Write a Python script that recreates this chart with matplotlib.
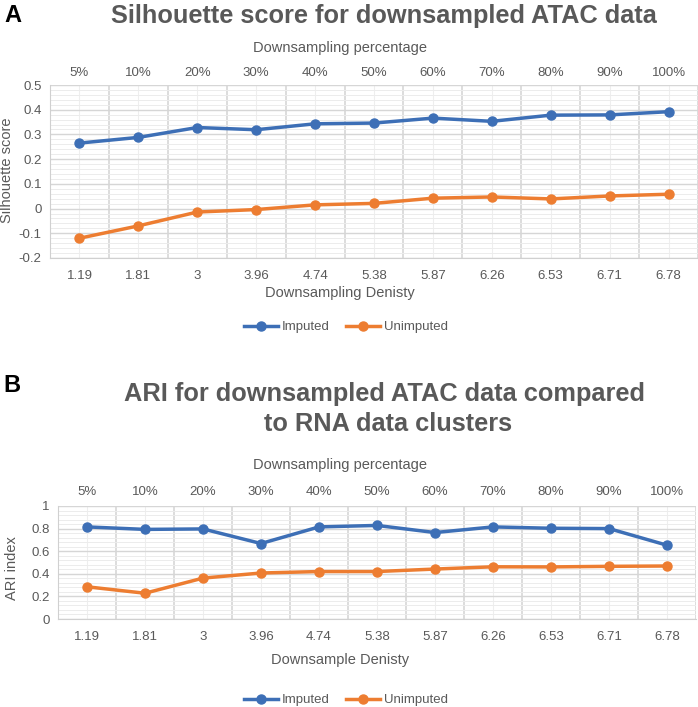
import matplotlib
matplotlib.use('Agg')
import matplotlib.pyplot as plt
from matplotlib.lines import Line2D
from matplotlib.ticker import MultipleLocator, AutoMinorLocator

plt.rcParams['font.family'] = ['Liberation Sans', 'DejaVu Sans']

# data
density = ['1.19', '1.81', '3', '3.96', '4.74', '5.38', '5.87', '6.26', '6.53', '6.71', '6.78']
percent = ['5%', '10%', '20%', '30%', '40%', '50%', '60%', '70%', '80%', '90%', '100%']

sil_imputed = [0.265, 0.288, 0.328, 0.319, 0.343, 0.346, 0.366, 0.353, 0.378, 0.379, 0.392]
sil_unimputed = [-0.120, -0.070, -0.014, -0.004, 0.015, 0.021, 0.042, 0.047, 0.039, 0.051, 0.058]

ari_imputed = [0.815, 0.793, 0.797, 0.668, 0.815, 0.828, 0.765, 0.815, 0.803, 0.800, 0.653]
ari_unimputed = [0.285, 0.228, 0.362, 0.407, 0.420, 0.420, 0.442, 0.462, 0.461, 0.466, 0.469]

BLUE = '#3d6fb6'
ORANGE = '#ed7d31'
TXT = '#595959'
W, H = 698, 707

fig = plt.figure(figsize=(W / 100, H / 100), dpi=100)


def px(x, y):
    return x / W, 1 - y / H


def make_panel(rect, imp, unimp, ylim, ystep, top_pad):
    ax = fig.add_axes(rect)
    x = list(range(len(density)))
    ax.plot(x, imp, color=BLUE, lw=2.5, marker='o', ms=6.5, solid_capstyle='round', zorder=3)
    ax.plot(x, unimp, color=ORANGE, lw=2.5, marker='o', ms=6.5, solid_capstyle='round', zorder=3)
    ax.set_xlim(-0.5, len(density) - 0.5)
    ax.set_ylim(*ylim)
    ax.set_xticks(x)
    ax.set_xticklabels(density)
    ax.set_xticks([i - 0.5 for i in range(len(density) + 1)], minor=True)
    ax.yaxis.set_major_locator(MultipleLocator(ystep))
    ax.yaxis.set_minor_locator(AutoMinorLocator(5))
    ax.yaxis.set_major_formatter(plt.FuncFormatter(lambda v, p: ('%g' % round(v, 2))))
    # gridlines: category centres light, boundaries darker
    ax.grid(True, which='major', axis='x', color='#eeeeee', lw=0.8)
    ax.grid(True, which='minor', axis='x', color='#d3d3d3', lw=1.1)
    ax.grid(True, which='major', axis='y', color='#d6d6d6', lw=1.0)
    ax.grid(True, which='minor', axis='y', color='#ececec', lw=0.7)
    ax.set_axisbelow(True)
    for s in ['top', 'right']:
        ax.spines[s].set_visible(False)
    for s in ['left', 'bottom']:
        ax.spines[s].set_color('#d0d0d0')
    ax.tick_params(which='both', length=0, labelsize=9.5, colors=TXT, pad=9)
    ax.tick_params(axis='y', pad=6)
    top = ax.secondary_xaxis('top')
    top.set_xticks(x)
    top.set_xticklabels(percent)
    top.tick_params(length=0, labelsize=9.5, colors=TXT, pad=top_pad)
    top.spines['top'].set_visible(False)
    return ax


# Panel A
axA = make_panel([50 / W, 1 - 258 / H, 648 / W, 173 / H], sil_imputed, sil_unimputed, (-0.2, 0.5), 0.1, 4)
fig.text(*px(4, 15), 'A', fontsize=17, fontweight='bold', color='black', va='center', ha='left')
fig.text(*px(384, 16), 'Silhouette score for downsampled ATAC data', fontsize=18.3,
         fontweight='bold', color=TXT, ha='center', va='center')
fig.text(*px(340, 48), 'Downsampling percentage', fontsize=10.5, color=TXT, ha='center', va='center')
fig.text(*px(7, 170), 'Silhouette score', fontsize=10.5, color=TXT, ha='center', va='center', rotation=90)
fig.text(*px(340, 293), 'Downsampling Denisty', fontsize=10.5, color=TXT, ha='center', va='center')

# Panel B
axB = make_panel([58 / W, 1 - 619 / H, 638 / W, 113 / H], ari_imputed, ari_unimputed, (0, 1), 0.2, 6)
fig.text(*px(3, 385), 'B', fontsize=17, fontweight='bold', color='black', va='center', ha='left')
fig.text(*px(384, 394), 'ARI for downsampled ATAC data compared', fontsize=18.3,
         fontweight='bold', color=TXT, ha='center', va='center')
fig.text(*px(388, 424), 'to RNA data clusters', fontsize=18.3,
         fontweight='bold', color=TXT, ha='center', va='center')
fig.text(*px(340, 465), 'Downsampling percentage', fontsize=10.5, color=TXT, ha='center', va='center')
fig.text(*px(12, 568), 'ARI index', fontsize=10.5, color=TXT, ha='center', va='center', rotation=90)
fig.text(*px(340, 660), 'Downsample Denisty', fontsize=10.5, color=TXT, ha='center', va='center')

# legends
handles = [Line2D([], [], color=BLUE, lw=2.5, marker='o', ms=6.5),
           Line2D([], [], color=ORANGE, lw=2.5, marker='o', ms=6.5)]
for ly in (327, 700):
    fig.legend(handles, ['Imputed', 'Unimputed'], loc='center', bbox_to_anchor=px(346, ly),
               ncol=2, frameon=False, fontsize=9.5, labelcolor=TXT, handlelength=2.6,
               handletextpad=0.3, columnspacing=1.2)

fig.savefig('out.png', dpi=100)
